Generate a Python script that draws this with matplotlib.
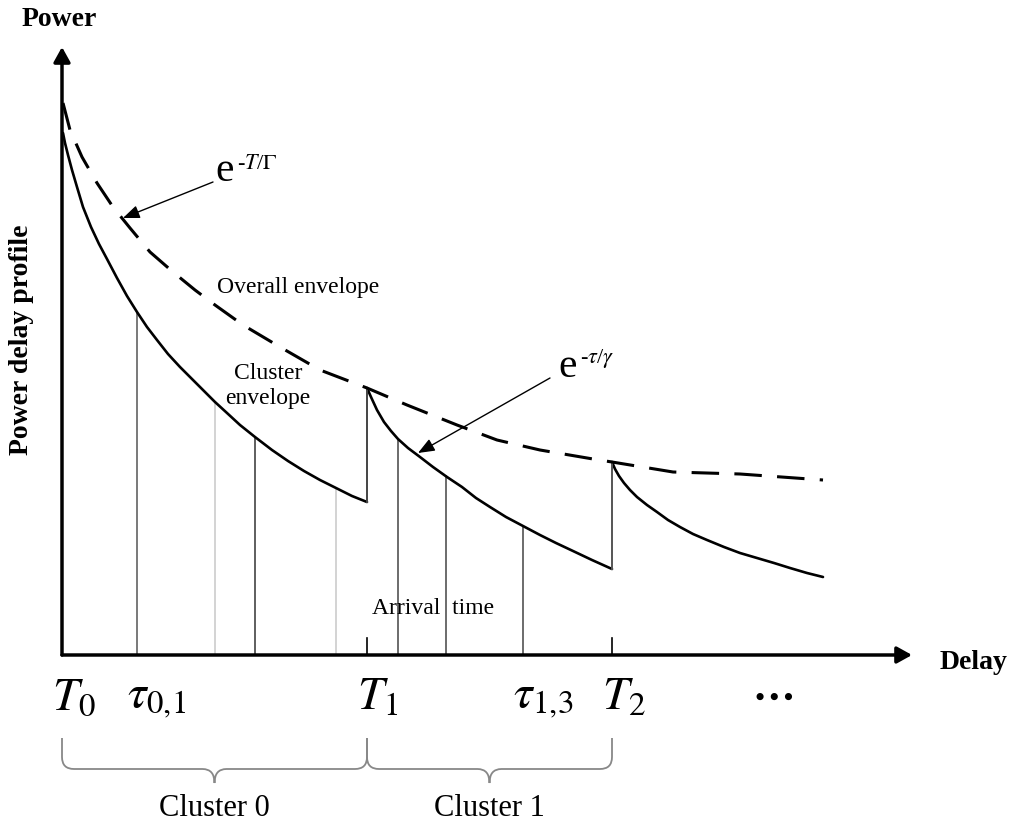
import matplotlib.pyplot as plt
from matplotlib.path import Path
from matplotlib.patches import PathPatch

plt.rcParams['font.family'] = ['Liberation Serif', 'DejaVu Serif']
plt.rcParams['mathtext.fontset'] = 'stix'

# cluster arrival times (delay units) and labels
cluster_times = [0, 305, 550]
cluster_names = ['Cluster 0', 'Cluster 1']

# cluster envelopes (delay, power)
c0_t = [1, 3, 6, 10, 15, 21, 29, 37, 45, 55, 65, 75, 85, 95, 106, 118, 130, 142,
        153, 165, 178, 193, 210, 226, 242, 258, 274, 290, 305]
c0_p = [522, 512, 500, 485, 468, 448, 428, 411, 396, 377, 359, 343, 328, 315, 301,
        288, 276, 264, 253, 242, 230, 218, 205, 194, 184, 175, 167, 159, 153]
c1_t = [305, 309, 315, 322, 329, 336, 346, 358, 371, 385, 400, 414, 428, 444, 461,
        478, 494, 511, 530, 550]
c1_p = [267, 258, 245, 233, 224, 216, 207, 198, 188, 178, 168, 157, 148, 138, 129,
        120, 112, 104, 95, 86]
c2_t = [550, 553, 557, 562, 568, 575, 585, 595, 606, 618, 631, 645, 662, 678, 695,
        712, 728, 745, 761]
c2_p = [193, 186, 179, 172, 165, 158, 150, 143, 135, 128, 121, 115, 108, 102, 97,
        92, 87, 82, 78]

# overall envelope (dashed)
env_t = [1, 8, 20, 35, 51, 68, 88, 111, 133, 153, 181, 218, 258, 305, 345, 395,
         435, 478, 531, 550, 611, 678, 761]
env_p = [552, 525, 498, 472, 448, 427, 403, 383, 365, 350, 330, 308, 285, 267, 250,
         230, 215, 205, 196, 193, 183, 181, 175]

# rays
ray_t = [75, 153, 193, 274, 336, 384, 461]
ray_p = [343, 253, 218, 167, 216, 179, 129]
ray_col = ['#555555', '#c8c8c8', '#333333', '#c8c8c8', '#444444', '#444444', '#444444']

# delay axis labels
tick_t = [0, 75, 305, 461, 550]
tick_lbl = [r'$T_0$', r'$\tau_{0{,}1}$', r'$T_1$', r'$\tau_{1{,}3}$', r'$T_2$']

fig = plt.figure(figsize=(10.24, 8.3), dpi=100)
ax = fig.add_axes([0, 0, 1, 1])
ax.set_xlim(-62, 962)
ax.set_ylim(-175, 655)
ax.axis('off')

axis_arrow = dict(arrowstyle='-|>,head_length=0.45,head_width=0.25', lw=2.5,
                  color='black', shrinkA=0, shrinkB=0, mutation_scale=20)
ax.annotate('', xy=(850, 0), xytext=(0, 0), arrowprops=axis_arrow)
ax.annotate('', xy=(0, 608), xytext=(0, 0), arrowprops=axis_arrow)

for t, p, c in zip(ray_t, ray_p, ray_col):
    ax.plot([t, t], [0, p], color=c, lw=1.1)

# cluster envelopes and jumps
for ct, cp in [(c0_t, c0_p), (c1_t, c1_p), (c2_t, c2_p)]:
    ax.plot(ct, cp, color='black', lw=1.9, solid_capstyle='round')
ax.plot([c0_t[-1], c1_t[0]], [c0_p[-1], c1_p[0]], color='#444444', lw=1.4)
ax.plot([c1_t[-1], c2_t[0]], [c1_p[-1], c2_p[0]], color='#555555', lw=1.4)
for t in cluster_times[1:]:
    ax.plot([t, t], [0, 17], color='black', lw=1.2)

ax.plot(env_t, env_p, color='black', lw=2.2, dashes=(9, 5))

# labels on the delay axis
for t, s in zip(tick_t, tick_lbl):
    ax.text(t - 10, -22, s, fontsize=34, ha='left', va='top')
ax.text(711, -42, r'$\mathbf{\cdots}$', fontsize=30, ha='center', va='center')

# braces under the clusters
def brace(a, b, top=-83, mid=-114, tip=-128, r=12):
    m = (a + b) / 2
    verts = [(a, top), (a, mid + r), (a, mid), (a + r, mid), (m - r, mid),
             (m, mid), (m, tip), (m, mid), (m + r, mid), (b - r, mid),
             (b, mid), (b, mid + r), (b, top)]
    codes = [Path.MOVETO, Path.LINETO, Path.CURVE3, Path.CURVE3, Path.LINETO,
             Path.CURVE3, Path.CURVE3, Path.CURVE3, Path.CURVE3, Path.LINETO,
             Path.CURVE3, Path.CURVE3, Path.LINETO]
    ax.add_patch(PathPatch(Path(verts, codes), fill=False, color='#888888', lw=1.3))

for i, name in enumerate(cluster_names):
    a, b = cluster_times[i], cluster_times[i + 1]
    brace(a, b)
    ax.text((a + b) / 2, -153, name, fontsize=22, ha='center', va='center')

# annotations
note_arrow = dict(arrowstyle='-|>,head_length=0.5,head_width=0.2', lw=1.0,
                  color='black', shrinkA=0, shrinkB=0, mutation_scale=20)
ax.text(153, 474, 'e', fontsize=30, ha='left', va='baseline')
ax.text(175, 486, r'-$T$/$\Gamma$', fontsize=16, ha='left', va='baseline')
ax.annotate('', xy=(61, 437), xytext=(151, 473), arrowprops=note_arrow)
ax.text(496, 278, 'e', fontsize=30, ha='left', va='baseline')
ax.text(518, 292, r'-$\tau$/$\gamma$', fontsize=16, ha='left', va='baseline')
ax.annotate('', xy=(356, 202), xytext=(488, 277), arrowprops=note_arrow)

ax.text(155, 368, 'Overall envelope', fontsize=17, ha='left', va='center')
ax.text(206, 269, 'Cluster\nenvelope', fontsize=17, ha='center', va='center',
        linespacing=1.3)
ax.text(310, 47, 'Arrival  time', fontsize=17, ha='left', va='center')

ax.text(-40, 635, 'Power', fontsize=20, fontweight='bold', ha='left', va='center')
ax.text(-40, 315, 'Power delay profile', fontsize=20, fontweight='bold',
        rotation=90, ha='center', va='center')
ax.text(878, -7, 'Delay', fontsize=20, fontweight='bold', ha='left', va='center')

fig.savefig('out.png', dpi=100)
